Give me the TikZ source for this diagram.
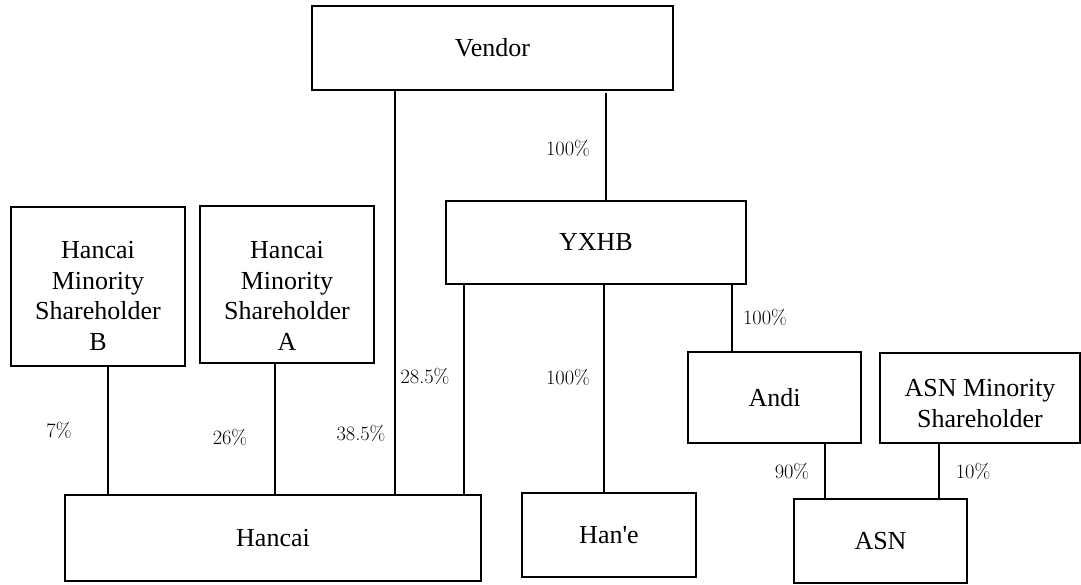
\documentclass[tikz,border=0pt]{standalone}
\usepackage{fontspec}
\newfontfamily\tnr{Liberation Serif}
\tikzset{
  ent/.style={draw=black, line width=1.6pt, fill=white, inner sep=0pt, align=center,
    font=\tnr\fontsize{26}{30.6}\selectfont},
  link/.style={draw=black, line width=1.6pt},
  pct/.style={inner sep=0pt, font=\fontsize{20.4}{24}\selectfont}
}
\begin{document}
\begin{tikzpicture}[x=1pt,y=-1pt]
\useasboundingbox (0,0) rectangle (1081,584);
% boxes
\node[ent, minimum width=361pt, minimum height=84pt] (vendor) at (492.5,48) {Vendor};
\node[ent, minimum width=300pt, minimum height=83pt] (yxhb) at (596,242.5) {YXHB};
\node[ent, minimum width=174pt, minimum height=159pt] (minb) at (98,286.5) {\rule{0pt}{36pt}Hancai\\Minority\\Shareholder\\B};
\node[ent, minimum width=174pt, minimum height=157pt] (mina) at (287,284.5) {\rule{0pt}{40pt}Hancai\\Minority\\Shareholder\\A};
\node[ent, minimum width=173pt, minimum height=91pt] (andi) at (774.5,397.5) {Andi};
\node[ent, minimum width=200pt, minimum height=90pt] (asnmin) at (980,398) {\rule{0pt}{28pt}ASN Minority\\Shareholder};
\node[ent, minimum width=416pt, minimum height=86pt] (hancai) at (273,538) {Hancai};
\node[ent, minimum width=174pt, minimum height=84pt] (hane) at (609,535) {Han'e};
\node[ent, minimum width=173pt, minimum height=84pt] (asn) at (880.5,541) {ASN};
% connectors
\draw[link] (vendor.south -| 395,0) -- (hancai.north -| 395,0);
\draw[link] (606,93) -- (yxhb.north -| 606,0);
\draw[link] (yxhb.south -| 464,0) -- (hancai.north -| 464,0);
\draw[link] (yxhb.south -| 604,0) -- (hane.north -| 604,0);
\draw[link] (yxhb.south -| 732,0) -- (andi.north -| 732,0);
\draw[link, line width=2.6pt] (minb.south -| 108,0) -- (hancai.north -| 108,0);
\draw[link] (mina.south -| 275,0) -- (hancai.north -| 275,0);
\draw[link] (andi.south -| 825,0) -- (asn.north -| 825,0);
\draw[link] (asnmin.south -| 939,0) -- (asn.north -| 939,0);
% labels
\node[pct] (l1) at (568,148) {100\%};
\node[pct] (l2) at (425,376) {28.5\%};
\node[pct] (l3) at (361,433) {38.5\%};
\node[pct] (l4) at (230,437) {26\%};
\node[pct] (l5) at (59,430) {7\%};
\node[pct] (l6) at (568,377) {100\%};
\node[pct] (l7) at (765,317) {100\%};
\node[pct] (l8) at (792,471) {90\%};
\node[pct] (l9) at (973,471) {10\%};
\end{tikzpicture}
\end{document}
